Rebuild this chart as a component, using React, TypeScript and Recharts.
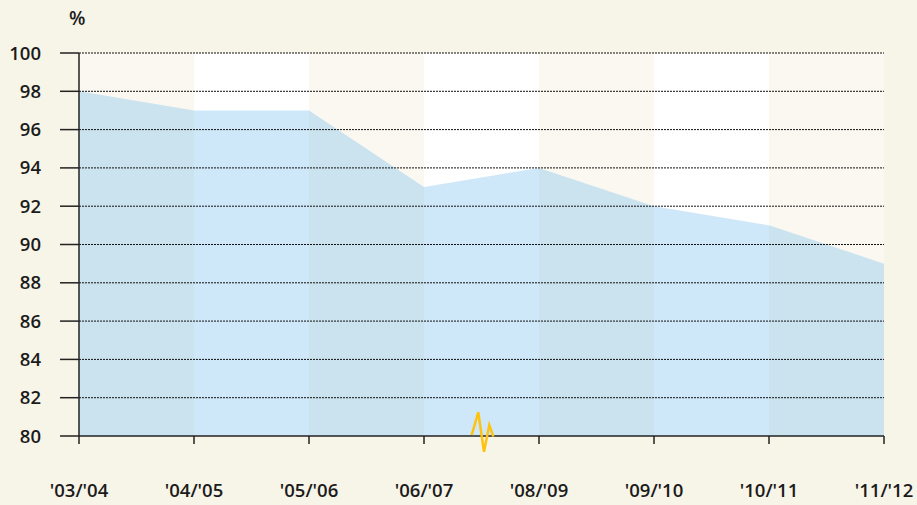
import { AreaChart, Area, XAxis, YAxis, CartesianGrid, ReferenceLine } from 'recharts';

const seasons = ["'03/'04", "'04/'05", "'05/'06", "'06/'07", "'08/'09", "'09/'10", "'10/'11", "'11/'12"];
const shares = [98, 97, 97, 93, 94, 92, 91, 89];
const yTicks = [80, 82, 84, 86, 88, 90, 92, 94, 96, 98, 100];

const data = seasons.map((s, i) => ({ season: s, share: shares[i] }));

const FONT = '"Open Sans", "DejaVu Sans", sans-serif';
const tickStyle = { fontSize: 18.5, fill: '#1b1b1b', fontFamily: FONT, fontWeight: 600 };

export default function App() {
  return (
    <div style={{ position: 'absolute', left: 0, top: 0, width: 917, height: 505, background: '#f7f4e8' }}>
      <div style={{ position: 'absolute', left: 69, top: 5, fontFamily: FONT, fontWeight: 600, fontSize: 19, color: '#1b1b1b' }}>%</div>
      <AreaChart width={917} height={505} data={data} margin={{ top: 53, right: 33, left: 0, bottom: 0 }}>
        {/* alternating column bands */}
        <CartesianGrid horizontal={false} vertical stroke="none" verticalFill={['#faf8f1', '#ffffff']} />
        <XAxis
          dataKey="season"
          height={69}
          tickSize={8}
          tickMargin={40}
          axisLine={{ stroke: '#222', strokeWidth: 1.5 }}
          tickLine={{ stroke: '#222', strokeWidth: 1.5 }}
          tick={tickStyle}
          interval={0}
        />
        <YAxis
          domain={[80, 100]}
          ticks={yTicks}
          width={79}
          tickSize={19}
          tickMargin={19}
          axisLine={{ stroke: '#222', strokeWidth: 1.5 }}
          tickLine={{ stroke: '#222', strokeWidth: 1.5 }}
          tick={tickStyle}
          allowDataOverflow
        />
        <Area
          type="linear"
          dataKey="share"
          stroke="none"
          fill="#5fb2eb"
          fillOpacity={0.3}
          isAnimationActive={false}
          activeDot={false}
        />
        {yTicks.slice(1).map((t) => (
          <ReferenceLine key={t} y={t} stroke="#111" strokeWidth={1} strokeDasharray="2 1" />
        ))}
      </AreaChart>
      {/* axis break marker */}
      <svg style={{ position: 'absolute', left: 0, top: 0 }} width={917} height={505}>
        <polyline
          points="471.7,435 478.3,412.3 484,451.7 489.3,425 493.3,436.7"
          fill="none"
          stroke="#ffc20e"
          strokeWidth={2.5}
          strokeLinejoin="miter"
        />
      </svg>
    </div>
  );
}
